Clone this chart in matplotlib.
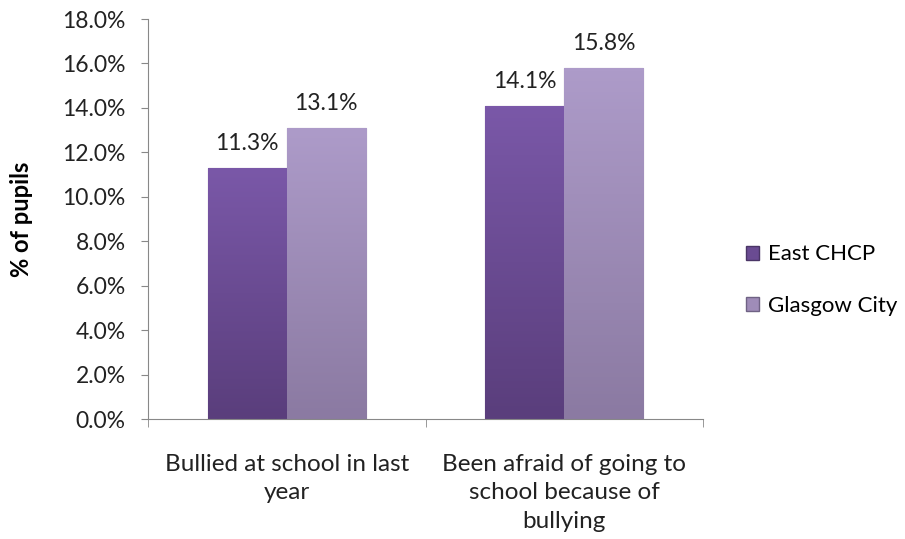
import matplotlib
matplotlib.use("Agg")
import matplotlib.pyplot as plt
import numpy as np
from matplotlib.colors import LinearSegmentedColormap
from matplotlib.patches import Patch

categories = ["Bullied at school in last\nyear", "Been afraid of going to\nschool because of\nbullying"]
series_names = ["East CHCP", "Glasgow City"]
east = [11.3, 14.1]
glasgow = [13.1, 15.8]
yticks = [0, 2, 4, 6, 8, 10, 12, 14, 16, 18]

plt.rcParams['font.family'] = ['Lato', 'DejaVu Sans']

fig = plt.figure(figsize=(9.05, 5.39), dpi=100)
ax = fig.add_axes([148/905, 1-419/539, (703-148)/905, 400/539])

x = np.arange(len(categories))
w = 0.285
colors_top = ["#7a58a8", "#ad9bc9"]
colors_bot = ["#5a3e7c", "#8b7aa2"]
mids = ["#6a4b92", "#9f8cb8"]
edges = ["#4a3566", "#6f6284"]

for i, (vals, ct, cb, cm) in enumerate(zip([east, glasgow], colors_top, colors_bot, mids)):
    offs = (i - 0.5) * w
    bars = ax.bar(x + offs, vals, width=w, color=cm, edgecolor=edges[i],
                  linewidth=0.8, zorder=2)
    cmap = LinearSegmentedColormap.from_list("g%d" % i, [cb, ct])
    for b, v in zip(bars, vals):
        x0 = b.get_x()
        im = ax.imshow(np.linspace(0, 1, 100).reshape(-1, 1), cmap=cmap, origin="lower",
                       extent=[x0, x0 + b.get_width(), 0, v], aspect="auto", zorder=2.5)
        im.set_clip_path(b)
        ax.annotate(f"{v:.1f}%", (b.get_x() + b.get_width()/2, v), xytext=(0, 10),
                    textcoords="offset points", ha="center", va="bottom", fontsize=16.5, color="#222222")

ax.set_xlim(-0.5, 1.5)
ax.set_ylim(0, 18)
ax.set_yticks(yticks)
ax.set_yticklabels([f"{t:.1f}%" for t in yticks], fontsize=16.5, color="#222222")
ax.set_xticks(x)
ax.set_xticklabels(categories, fontsize=17.5, color="#222222", linespacing=1.45)
ax.tick_params(axis="x", length=0, pad=25)
ax.set_xticks([-0.5, 0.5, 1.5], minor=True)
ax.tick_params(axis="x", which="minor", length=6, color="#888888")
ax.tick_params(axis="y", length=5, color="#888888", pad=11)
for s in ["top", "right"]:
    ax.spines[s].set_visible(False)
for s in ["left", "bottom"]:
    ax.spines[s].set_color("#888888")
ax.set_ylabel("% of pupils", fontsize=17, fontweight="bold")
ax.yaxis.set_label_coords(-0.207, 0.5)

handles = [Patch(facecolor=mids[0], edgecolor=edges[0]), Patch(facecolor=mids[1], edgecolor=edges[1])]
fig.legend(handles, series_names, loc="center left", bbox_to_anchor=(726/905, 1-280/539),
           frameon=False, fontsize=16, handlelength=0.6, handleheight=0.6, handletextpad=0.4,
           labelspacing=1.4)

fig.savefig("out.png", dpi=100, facecolor="white")
